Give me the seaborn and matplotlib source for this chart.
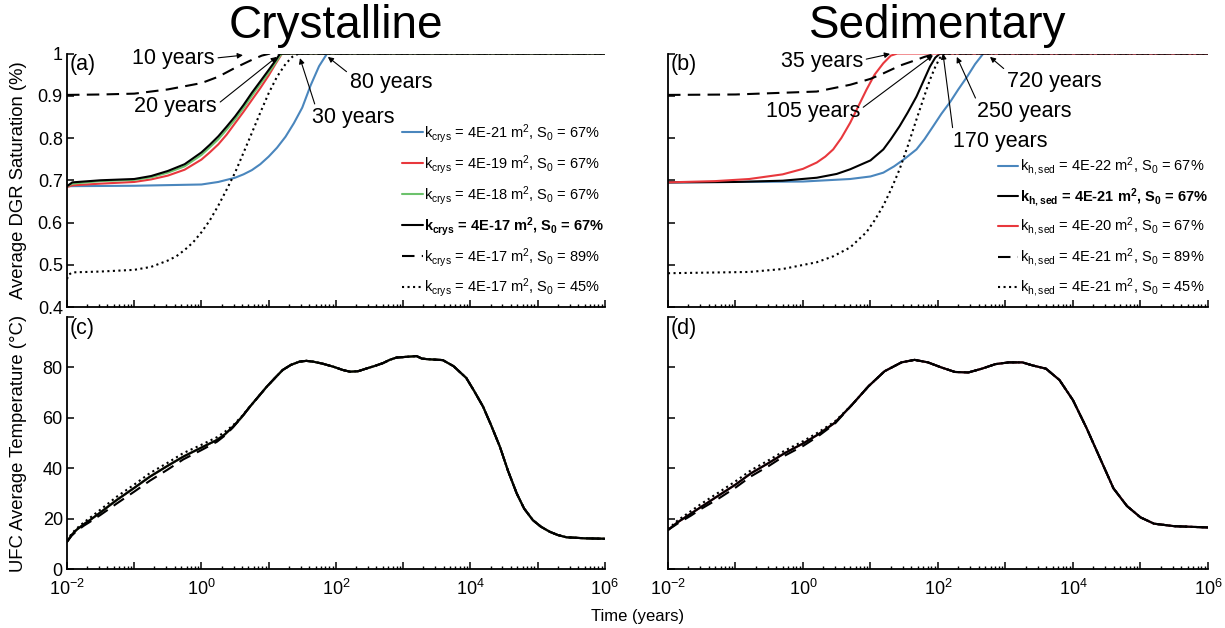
import numpy as np
import pandas as pd
import matplotlib.pyplot as plt
import seaborn as sns

# ---- data (time in years) ----
# (a) crystalline, DGR saturation
cry_t_blue = [0.01, 0.1, 1, 1.78, 3.16, 4.22, 5.62, 7.5, 10, 13.3, 17.8, 23.7, 31.6, 42.2, 56.2, 74]
cry_s_blue = [0.686, 0.687, 0.690, 0.696, 0.706, 0.714, 0.724, 0.738, 0.756, 0.777, 0.803, 0.835,
              0.872, 0.925, 0.970, 1.0]
cry_t_red = [0.01, 0.012, 0.0316, 0.1, 0.178, 0.316, 0.562, 1, 1.33, 1.78, 2.37, 3.16, 4.22, 5.62,
             7.5, 10, 12.6, 15.8]
cry_s_red = [0.684, 0.688, 0.692, 0.696, 0.702, 0.711, 0.725, 0.749, 0.766, 0.785, 0.808, 0.835,
             0.862, 0.890, 0.918, 0.948, 0.975, 1.0]
cry_t_green = [0.01, 0.012, 0.0316, 0.1, 0.178, 0.316, 0.562, 1, 1.33, 1.78, 2.37, 3.16, 4.22,
               5.62, 7.5, 10, 12.6, 14.8, 16]
cry_s_green = [0.686, 0.692, 0.698, 0.701, 0.707, 0.718, 0.733, 0.760, 0.778, 0.797, 0.820, 0.844,
               0.871, 0.900, 0.928, 0.955, 0.978, 0.995, 1.0]
cry_t_black = [0.01, 0.012, 0.0316, 0.1, 0.178, 0.316, 0.562, 1, 1.33, 1.78, 2.37, 3.16, 4.22,
               5.62, 7.5, 10, 12.6, 14.8]
cry_s_black = [0.686, 0.695, 0.700, 0.703, 0.710, 0.722, 0.738, 0.766, 0.784, 0.804, 0.827, 0.851,
               0.878, 0.907, 0.934, 0.961, 0.983, 1.0]
cry_t_s89 = [0.01, 0.0316, 0.1, 0.316, 1, 1.78, 3.16, 5.62, 7.9, 10.5]
cry_s_s89 = [0.902, 0.903, 0.905, 0.915, 0.930, 0.945, 0.966, 0.985, 0.995, 1.0]
cry_t_s45 = [0.01, 0.0105, 0.012, 0.0316, 0.1, 0.178, 0.316, 0.422, 0.562, 0.75, 1, 1.33, 1.78,
             2.37, 3.16, 4.22, 5.62, 7.5, 10, 13.3, 17.8, 22.4, 28.2]
cry_s_s45 = [0.466, 0.476, 0.482, 0.484, 0.488, 0.495, 0.510, 0.520, 0.535, 0.553, 0.577, 0.605,
             0.640, 0.678, 0.718, 0.765, 0.812, 0.860, 0.906, 0.945, 0.975, 0.992, 1.0]

# (b) sedimentary, DGR saturation
sed_t_blue = [0.01, 1, 5, 10, 15.5, 22.4, 31.6, 48, 63, 85, 112, 151, 200, 270, 355, 470]
sed_s_blue = [0.695, 0.697, 0.703, 0.709, 0.718, 0.733, 0.750, 0.773, 0.797, 0.828, 0.857, 0.885,
              0.915, 0.945, 0.975, 1.0]
sed_t_black = [0.01, 0.1, 0.5, 1.6, 3.16, 5, 10, 15.5, 20, 27, 35.5, 48, 63, 76, 91, 107]
sed_s_black = [0.695, 0.696, 0.699, 0.706, 0.715, 0.726, 0.747, 0.773, 0.797, 0.828, 0.860, 0.898,
               0.940, 0.969, 0.990, 1.0]
sed_t_red = [0.01, 0.05, 0.16, 0.5, 1, 1.6, 2.14, 2.8, 3.7, 5, 6.6, 8.7, 11.5, 15.5, 20, 25]
sed_s_red = [0.695, 0.698, 0.703, 0.714, 0.727, 0.742, 0.756, 0.773, 0.800, 0.836, 0.875, 0.914,
             0.950, 0.977, 0.995, 1.0]
sed_t_s89 = [0.01, 0.1, 1.6, 5, 10, 15.5, 28, 48, 63, 85, 100]
sed_s_s89 = [0.902, 0.903, 0.910, 0.926, 0.940, 0.953, 0.972, 0.985, 0.992, 0.998, 1.0]
sed_t_s45 = [0.01, 0.16, 0.5, 1.6, 2.8, 5, 8.7, 11.5, 15.5, 20.4, 27, 35.5, 48, 63, 76, 91, 107, 126]
sed_s_s45 = [0.480, 0.483, 0.490, 0.506, 0.520, 0.541, 0.577, 0.605, 0.640, 0.680, 0.726, 0.780,
             0.844, 0.900, 0.938, 0.968, 0.990, 1.0]

# (c) crystalline, UFC temperature
cry_temp_t = [0.01, 0.0117, 0.0138, 0.0178, 0.0219, 0.0316, 0.055, 0.1, 0.17, 0.316, 0.537, 1,
              1.7, 2.24, 2.95, 3.98, 5.25, 7.08, 9.33, 12.6, 16.2, 21.4, 28.8, 36.3, 45.7, 63.1,
              91.2, 126, 162, 214, 288, 380, 501, 631, 794, 1122, 1585, 1905, 2239, 3890, 5623,
              8710, 11480, 15490, 20420, 27540, 36310, 48980, 63100, 85110, 112200, 151400,
              199500, 269200, 501200, 1e6]
cry_temp = [10.8, 13.5, 15.5, 17.8, 19.4, 22.5, 27.4, 32.2, 36.6, 41.0, 44.6, 48.2, 51.2, 53.5,
            56.5, 60.3, 64.4, 68.5, 72.3, 76.0, 79.0, 81.0, 82.3, 82.6, 82.3, 81.5, 80.3, 79.0,
            78.3, 78.5, 79.6, 80.6, 81.7, 83.0, 83.9, 84.2, 84.5, 83.5, 83.3, 82.9, 80.5, 75.8,
            70.5, 64.4, 57.0, 48.5, 39.0, 30.0, 24.0, 19.4, 16.8, 14.8, 13.5, 12.6, 12.2, 12.0]
cry_temp_s89 = [10.8, 13.2, 15.0, 17.2, 18.7, 21.5, 26.0, 30.7, 35.0, 39.5, 43.5, 47.2, 50.5,
                53.0, 56.2] + cry_temp[15:]
cry_temp_s45 = [11.2, 14.0, 16.0, 18.5, 20.3, 23.6, 28.7, 33.5, 38.0, 42.2, 46.0, 49.3, 52.3,
                54.5, 57.0, 60.6] + cry_temp[16:]

# (d) sedimentary, UFC temperature
sed_temp_t = [0.01, 0.0138, 0.0219, 0.0316, 0.055, 0.1, 0.17, 0.316, 0.537, 1, 1.7, 2.95, 5.25,
              9.33, 16.2, 28.8, 45, 71, 112, 178, 282, 447, 708, 1122, 1778, 2512, 3981, 6310,
              10000, 15850, 25120, 39810, 63100, 100000, 158500, 316200, 1e6]
sed_temp = [15.5, 18.5, 22.0, 24.8, 29.0, 33.5, 38.0, 42.2, 46.0, 49.8, 53.5, 58.0, 65.0, 72.5,
            78.5, 82.0, 83.0, 82.0, 80.0, 78.2, 78.0, 79.5, 81.3, 82.0, 82.0, 80.8, 79.5, 75.0,
            67.0, 56.0, 44.0, 32.0, 25.0, 20.5, 18.0, 17.0, 16.5]
sed_temp_s89 = [15.5, 18.0, 21.2, 24.0, 27.8, 32.3, 36.8, 41.0, 45.0, 48.8, 52.8, 57.6] + sed_temp[12:]
sed_temp_s45 = [15.8, 19.2, 23.0, 26.0, 30.2, 34.8, 39.2, 43.3, 47.0, 50.7, 54.3, 58.5] + sed_temp[12:]

cry_labels = [r'k$_{crys}$ = 4E-21 m$^2$, S$_0$ = 67%',
              r'k$_{crys}$ = 4E-19 m$^2$, S$_0$ = 67%',
              r'k$_{crys}$ = 4E-18 m$^2$, S$_0$ = 67%',
              r'k$_{crys}$ = 4E-17 m$^2$, S$_0$ = 67%',
              r'k$_{crys}$ = 4E-17 m$^2$, S$_0$ = 89%',
              r'k$_{crys}$ = 4E-17 m$^2$, S$_0$ = 45%']
sed_labels = [r'k$_{h,sed}$ = 4E-22 m$^2$, S$_0$ = 67%',
              r'k$_{h,sed}$ = 4E-21 m$^2$, S$_0$ = 67%',
              r'k$_{h,sed}$ = 4E-20 m$^2$, S$_0$ = 67%',
              r'k$_{h,sed}$ = 4E-21 m$^2$, S$_0$ = 89%',
              r'k$_{h,sed}$ = 4E-21 m$^2$, S$_0$ = 45%']

# annotations: text, arrow tip (t, S), text anchor (t, S), alignment, arrow start on text box
cry_notes = [('10 years', 4.14, 0.996, 1.58, 0.989, 'right', (1, 0.5)),
             ('20 years', 13.2, 0.992, 1.7, 0.874, 'right', (1, 0.6)),
             ('30 years', 29.2, 0.989, 179, 0.848, 'center', (0.05, 1)),
             ('80 years', 75.9, 0.992, 161, 0.931, 'left', (0, 0.9))]
sed_notes = [('35 years', 19.5, 0.999, 7.74, 0.980, 'right', (1, 0.6)),
             ('105 years', 84.3, 0.996, 6.98, 0.862, 'right', (1, 0.6)),
             ('170 years', 118.6, 1.0, 167, 0.792, 'left', (0, 1)),
             ('250 years', 190, 0.992, 378, 0.862, 'left', (0, 1)),
             ('720 years', 589, 0.992, 1052, 0.933, 'left', (0, 1))]

BLUE = '#4a86bd'
RED = '#e8383d'
GREEN = '#6cc26c'
DASH = (6, 3.5)

sns.set_style('ticks')
plt.rcParams['font.family'] = ['Liberation Sans', 'DejaVu Sans']
plt.rcParams['mathtext.default'] = 'regular'
plt.rcParams.update({'axes.linewidth': 1.3, 'axes.edgecolor': 'black', 'text.color': 'black',
                     'axes.labelcolor': 'black', 'xtick.color': 'black', 'ytick.color': 'black'})

fig = plt.figure(figsize=(12.25, 6.28), dpi=100)
ax_a = fig.add_axes([0.0547, 0.5111, 0.439, 0.4037])
ax_b = fig.add_axes([0.5453, 0.5111, 0.4408, 0.4037])
ax_c = fig.add_axes([0.0547, 0.0939, 0.439, 0.4013])
ax_d = fig.add_axes([0.5453, 0.0939, 0.4408, 0.4013])

cry_sat = [(cry_t_blue + [1e6], cry_s_blue + [1.0], BLUE, '-'),
           (cry_t_red + [1e6], cry_s_red + [1.0], RED, '-'),
           (cry_t_green + [1e6], cry_s_green + [1.0], GREEN, '-'),
           (cry_t_black + [1e6], cry_s_black + [1.0], 'k', '-'),
           (cry_t_s89 + [1e6], cry_s_s89 + [1.0], 'k', '--'),
           (cry_t_s45 + [1e6], cry_s_s45 + [1.0], 'k', ':')]
sed_sat = [(sed_t_blue + [1e6], sed_s_blue + [1.0], BLUE, '-'),
           (sed_t_black + [1e6], sed_s_black + [1.0], 'k', '-'),
           (sed_t_red + [1e6], sed_s_red + [1.0], RED, '-'),
           (sed_t_s89 + [1e6], sed_s_s89 + [1.0], 'k', '--'),
           (sed_t_s45 + [1e6], sed_s_s45 + [1.0], 'k', ':')]
cry_tmp = [(cry_temp_t, cry_temp, BLUE, '-'),
           (cry_temp_t, cry_temp, RED, '-'),
           (cry_temp_t, cry_temp, GREEN, '-'),
           (cry_temp_t, cry_temp, 'k', '-'),
           (cry_temp_t, cry_temp_s89, 'k', '--'),
           (cry_temp_t, cry_temp_s45, 'k', ':')]
sed_tmp = [(sed_temp_t, sed_temp, BLUE, '-'),
           (sed_temp_t, sed_temp, RED, '-'),
           (sed_temp_t, sed_temp, 'k', '-'),
           (sed_temp_t, sed_temp_s89, 'k', '--'),
           (sed_temp_t, sed_temp_s45, 'k', ':')]


def draw(ax, series, labels=None):
    for i, (t, v, c, ls) in enumerate(series):
        df = pd.DataFrame({'t': t, 'v': v})
        lab = labels[i] if labels else None
        line_kw = dict(color=c, lw=1.5)
        if ls == '--':
            line_kw['dashes'] = DASH
        else:
            line_kw['linestyle'] = ls
        sns.lineplot(data=df, x='t', y='v', ax=ax, label=lab, legend=False, **line_kw)


draw(ax_a, cry_sat, cry_labels)
draw(ax_b, sed_sat, sed_labels)
draw(ax_c, cry_tmp)
draw(ax_d, sed_tmp)

dec = [10.0 ** k for k in range(-2, 7)]
dec_lab = [r'$10^{%d}$' % k if k % 2 == 0 else '' for k in range(-2, 7)]
for ax in (ax_a, ax_b, ax_c, ax_d):
    ax.set_xscale('log')
    ax.set_xlim(1e-2, 1e6)
    ax.set_xticks(dec)
    ax.xaxis.set_minor_locator(plt.matplotlib.ticker.LogLocator(base=10, subs=np.arange(2, 10), numticks=20))
    ax.xaxis.set_minor_formatter(plt.NullFormatter())
    ax.tick_params(which='major', direction='in', length=5, width=1.1, labelsize=13)
    ax.tick_params(which='minor', direction='in', length=2.5, width=1.0)
    ax.tick_params(axis='x', pad=7)
    ax.tick_params(axis='y', pad=3)
    ax.set_xlabel('')
    ax.set_ylabel('')
    sns.despine(ax=ax)

for ax in (ax_a, ax_b):
    ax.set_ylim(0.4, 1.0)
    ax.set_yticks(np.arange(0.4, 1.01, 0.1))
    ax.set_xticklabels([''] * len(dec))
ax_a.set_yticklabels(['0.4', '0.5', '0.6', '0.7', '0.8', '0.9', '1'])
ax_b.set_yticklabels([''] * 7)

for ax in (ax_c, ax_d):
    ax.set_ylim(0, 100)
    ax.set_yticks([0, 20, 40, 60, 80, 100])
    ax.set_xticklabels(dec_lab)
ax_c.set_yticklabels(['0', '20', '40', '60', '80', ''])
ax_d.set_yticklabels([''] * 6)

ax_a.set_ylabel('Average DGR Saturation (%)', fontsize=13.3)
ax_c.set_ylabel('UFC Average Temperature (°C)', fontsize=13.3)
ax_a.yaxis.set_label_coords(-0.074, 0.5)
ax_c.yaxis.set_label_coords(-0.074, 0.5)

ax_a.set_title('Crystalline', fontsize=33, pad=11)
ax_b.set_title('Sedimentary', fontsize=33, pad=11)
fig.text(0.5205, 0.018, 'Time (years)', ha='center', va='center', fontsize=12)

for ax, tag in ((ax_a, '(a)'), (ax_b, '(b)'), (ax_c, '(c)'), (ax_d, '(d)')):
    ax.text(0.004, 0.955, tag, transform=ax.transAxes, fontsize=15.5, va='center', ha='left')

for ax, notes in ((ax_a, cry_notes), (ax_b, sed_notes)):
    for txt, xt, yt, xs, ys, ha, rp in notes:
        ax.annotate(txt, xy=(xt, yt), xytext=(xs, ys), ha=ha, va='center', fontsize=15.5,
                    annotation_clip=False,
                    arrowprops=dict(arrowstyle='-|>', color='k', lw=0.8, mutation_scale=8,
                                    shrinkA=0, shrinkB=0, relpos=rp))

for ax, bold_idx in ((ax_a, 3), (ax_b, 1)):
    h, l = ax.get_legend_handles_labels()
    leg = ax.legend(h, l, loc='lower right', bbox_to_anchor=(1.0, 0.03), frameon=False,
                    fontsize=10.5, handlelength=1.4, handletextpad=0.1, labelspacing=0.55,
                    borderaxespad=0, borderpad=0)
    leg.get_texts()[bold_idx].set_fontweight('bold')

fig.savefig('out.png', dpi=100)
